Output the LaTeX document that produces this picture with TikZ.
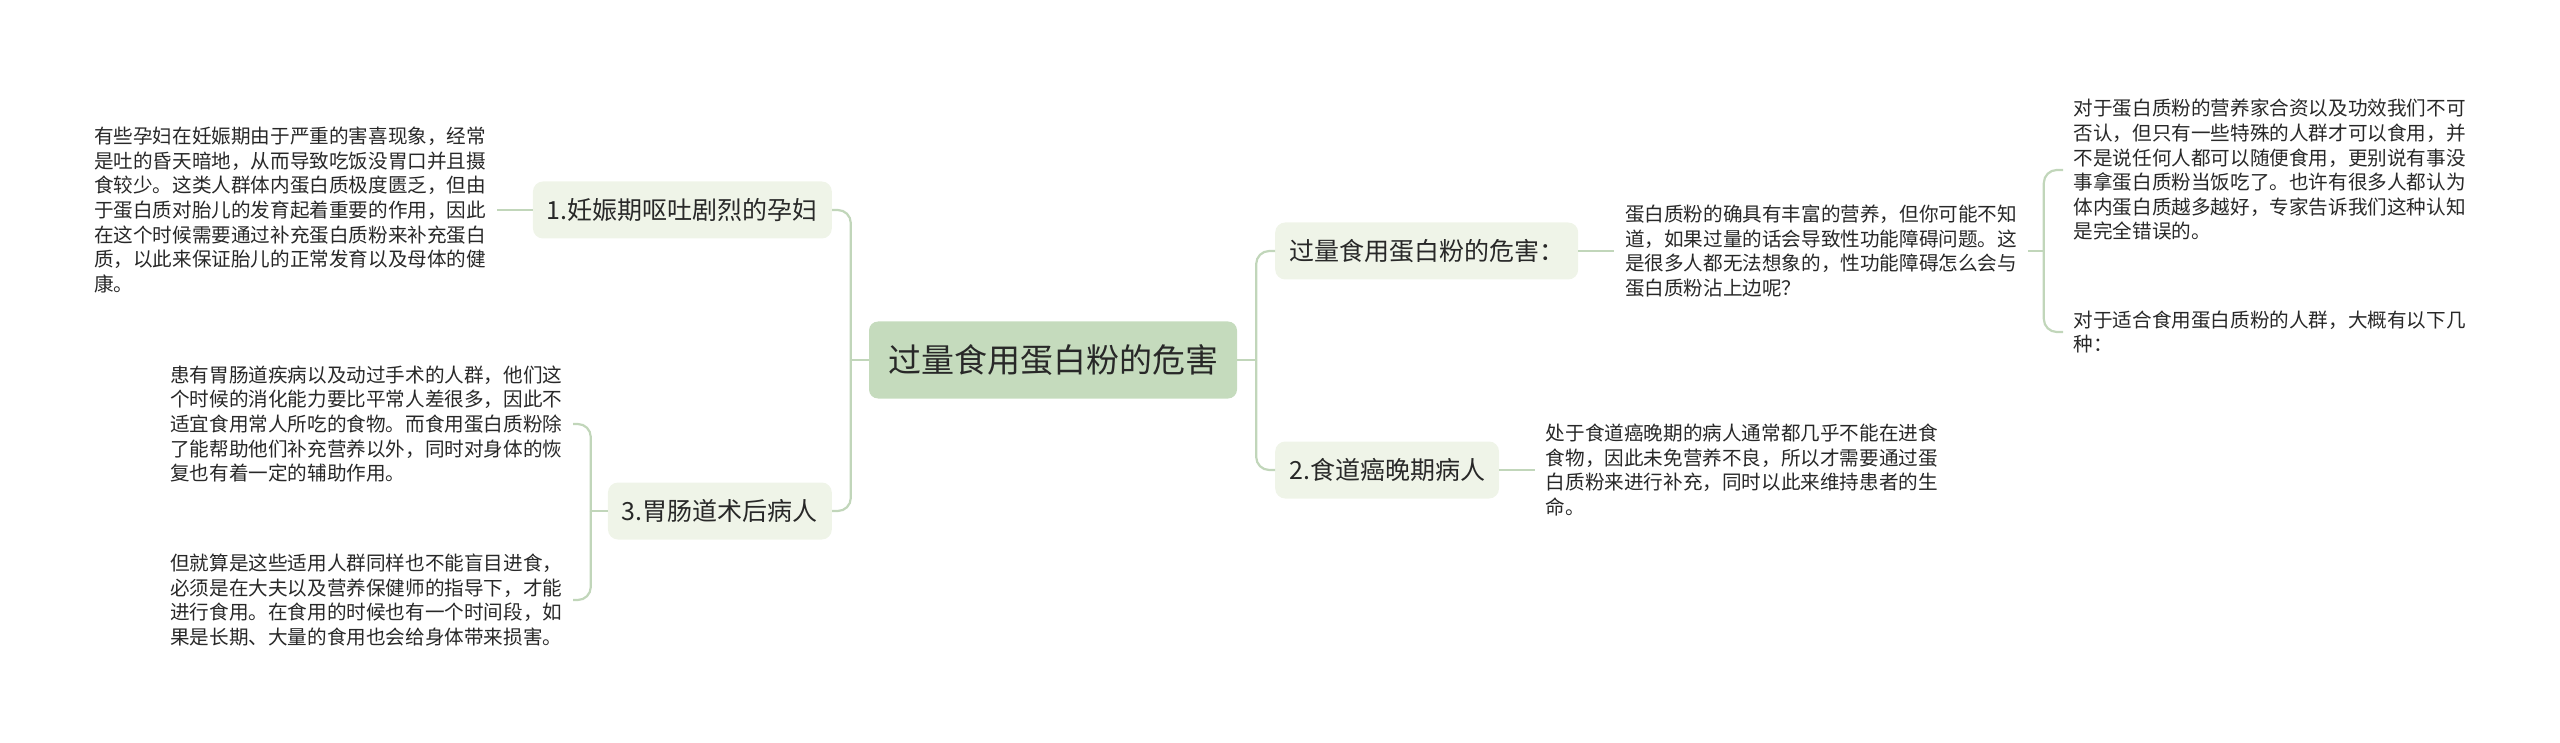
\documentclass[tikz,border=0pt]{standalone}
\usepackage{fontspec}
\setmainfont{Noto Sans CJK SC}
\usetikzlibrary{positioning}

\definecolor{rootgreen}{RGB}{197,219,189}
\definecolor{topicgreen}{RGB}{239,244,232}
\definecolor{linkgreen}{RGB}{193,214,186}
\definecolor{inkgray}{RGB}{40,40,40}

\begin{document}
\begin{tikzpicture}	[
		x=1pt, y=-1pt,
		node distance=36pt,
		root/.style={
			fill=rootgreen,
			rounded corners=9pt,
			inner xsep=19pt,
			minimum height=77pt,
			text=inkgray,
			font=\fontsize{33}{40}\selectfont,
		},
		topic/.style={
			fill=topicgreen,
			rounded corners=10pt,
			inner xsep=14pt,
			minimum height=57pt,
			text=inkgray,
			font=\fontsize{25}{30}\selectfont,
		},
		leaf/.style={
			inner xsep=10.5pt,
			inner ysep=0pt,
			align=left,
			text=inkgray,
			font=\fontsize{19.6}{24.6}\selectfont,
		},
		link/.style={
			draw=linkgreen,
			line width=2.2pt,
			rounded corners=13pt,
		},
	]
	\useasboundingbox (0,0) rectangle (2560,743);

	\node [root] (R) at (1053,360) {过量食用蛋白粉的危害};

	% left side
	\node [topic, anchor=east] (preg) at (832,210) {1.妊娠期呕吐剧烈的孕妇};
	\node [topic, anchor=east] (gut) at (832,511) {3.胃肠道术后病人};
	\node [leaf, left=of preg] (pregtxt) {有些孕妇在妊娠期由于严重的害喜现象，经常\\
		是吐的昏天暗地，从而导致吃饭没胃口并且摄\\
		食较少。这类人群体内蛋白质极度匮乏，但由\\
		于蛋白质对胎儿的发育起着重要的作用，因此\\
		在这个时候需要通过补充蛋白质粉来补充蛋白\\
		质，以此来保证胎儿的正常发育以及母体的健\\
		康。};
	\node [leaf, anchor=east] (guta) at (573,424) {患有胃肠道疾病以及动过手术的人群，他们这\\
		个时候的消化能力要比平常人差很多，因此不\\
		适宜食用常人所吃的食物。而食用蛋白质粉除\\
		了能帮助他们补充营养以外，同时对身体的恢\\
		复也有着一定的辅助作用。};
	\node [leaf, anchor=east] (gutb) at (573,600) {但就算是这些适用人群同样也不能盲目进食，\\
		必须是在大夫以及营养保健师的指导下，才能\\
		进行食用。在食用的时候也有一个时间段，如\\
		果是长期、大量的食用也会给身体带来损害。};

	% right side
	\node [topic, anchor=west] (harm) at (1275,251) {过量食用蛋白粉的危害：};
	\node [topic, anchor=west] (cancer) at (1275,470) {2.食道癌晚期病人};
	\node [leaf, right=of harm] (harmtxt) {蛋白质粉的确具有丰富的营养，但你可能不知\\
		道，如果过量的话会导致性功能障碍问题。这\\
		是很多人都无法想象的，性功能障碍怎么会与\\
		蛋白质粉沾上边呢？};
	\node [leaf, right=of cancer] (cancertxt) {处于食道癌晚期的病人通常都几乎不能在进食\\
		食物，因此未免营养不良，所以才需要通过蛋\\
		白质粉来进行补充，同时以此来维持患者的生\\
		命。};
	\node [leaf, anchor=west] (harma) at (2063,170) {对于蛋白质粉的营养家合资以及功效我们不可\\
		否认，但只有一些特殊的人群才可以食用，并\\
		不是说任何人都可以随便食用，更别说有事没\\
		事拿蛋白质粉当饭吃了。也许有很多人都认为\\
		体内蛋白质越多越好，专家告诉我们这种认知\\
		是完全错误的。};
	\node [leaf, anchor=west] (harmb) at (2063,332) {对于适合食用蛋白质粉的人群，大概有以下几\\
		种：};

	% junctions
	\coordinate [left=18pt of R.west] (jl);
	\coordinate [right=19pt of R.east] (jr);
	\coordinate [left=17pt of gut.west] (jg);
	\coordinate [right=16pt of harmtxt.east] (jh);

	\draw [link] (R.west) -- (jl);
	\draw [link] (jl) |- (preg.east);
	\draw [link] (jl) |- (gut.east);
	\draw [link] (preg.west) -- (pregtxt.east);
	\draw [link] (gut.west) -- (jg);
	\draw [link] (jg) |- (guta.east);
	\draw [link] (jg) |- (gutb.east);

	\draw [link] (R.east) -- (jr);
	\draw [link] (jr) |- (harm.west);
	\draw [link] (jr) |- (cancer.west);
	\draw [link] (harm.east) -- (harmtxt.west);
	\draw [link] (cancer.east) -- (cancertxt.west);
	\draw [link] (harmtxt.east) -- (jh);
	\draw [link] (jh) |- (harma.west);
	\draw [link] (jh) |- (harmb.west);

\end{tikzpicture}
\end{document}
